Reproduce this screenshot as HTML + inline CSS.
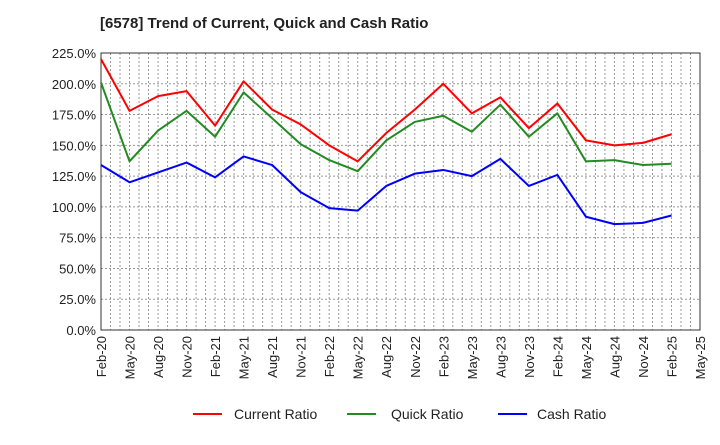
<!DOCTYPE html>
<html><head><meta charset="utf-8"><style>
body{margin:0;background:#fff;font-family:"Liberation Sans",sans-serif;}
</style></head><body>
<svg id="c" width="720" height="440" xmlns="http://www.w3.org/2000/svg">
<text x="100" y="28" font-size="15" font-weight="bold" fill="#222">[6578]  Trend of Current, Quick and Cash Ratio</text>
<g id="grid"></g><g id="axes"></g><g id="series"></g>
<g font-size="14" fill="#222">
<line x1="193" y1="414" x2="222" y2="414" stroke="#ff0000" stroke-width="2"/>
<text x="234" y="419">Current Ratio</text>
<line x1="347" y1="414" x2="376" y2="414" stroke="#228b22" stroke-width="2"/>
<text x="391" y="419">Quick Ratio</text>
<line x1="498" y1="414" x2="527" y2="414" stroke="#0000ff" stroke-width="2"/>
<text x="537" y="419">Cash Ratio</text>
</g>
</svg>
<script>
const xLabels=["Feb-20","May-20","Aug-20","Nov-20","Feb-21","May-21","Aug-21","Nov-21","Feb-22","May-22","Aug-22","Nov-22","Feb-23","May-23","Aug-23","Nov-23","Feb-24","May-24","Aug-24","Nov-24","Feb-25","May-25"];
const yTicks=[0,25,50,75,100,125,150,175,200,225];
const currentRatio=[220,178,190,194,166,202,179,167,150,137,160,179,200,176,189,164,184,154,150,152,159];
const quickRatio=[201,137,162,178,157,193,172,151,138,129,154,169,174,161,183,157,176,137,138,134,135];
const cashRatio=[134,120,128,136,124,141,134,112,99,97,117,127,130,125,139,117,126,92,86,87,93];
const L=101,R=700,T=53,B=330,NS="http://www.w3.org/2000/svg";
const xq=i=>L+(R-L)*i/(xLabels.length-1);
const y=v=>B-(B-T)*v/225;
function mk(t,a,p){const e=document.createElementNS(NS,t);for(const k in a)e.setAttribute(k,a[k]);p.appendChild(e);return e;}
const g=document.getElementById('grid'),ax=document.getElementById('axes'),s=document.getElementById('series');
for(let m=1;m<(xLabels.length-1)*3;m++){const x=L+(R-L)*m/((xLabels.length-1)*3);
const e=mk('line',{x1:x,x2:x,y1:T,y2:B,stroke:'#999','stroke-dasharray':'2,2','stroke-width':1},g);

}
yTicks.forEach(v=>{const e=mk('line',{x1:L,x2:R,y1:y(v),y2:y(v),stroke:'#999','stroke-dasharray':'2,2','stroke-width':1},g);


const t=mk('text',{x:L-5,y:y(v)+5,'text-anchor':'end','font-size':13,fill:'#222'},ax);t.textContent=v.toFixed(1)+'%';

});
const fr=mk('rect',{x:L,y:T,width:R-L,height:B-T,fill:'none',stroke:'#333','stroke-width':1},ax);


xLabels.forEach((l,i)=>{const x=xq(i);const t=mk('text',{x:0,y:0,transform:`translate(${x+5},${B+6}) rotate(-90)`,'text-anchor':'end','font-size':13,fill:'#222'},ax);t.textContent=l;

});
[[currentRatio,'#ff0000','current-ratio-line'],[quickRatio,'#228b22','quick-ratio-line'],[cashRatio,'#0000ff','cash-ratio-line']].forEach(([d,c,n])=>{
const p=mk('polyline',{points:d.map((v,i)=>xq(i)+','+y(v)).join(' '),fill:'none',stroke:c,'stroke-width':2,'stroke-linejoin':'round'},s);

});
</script>
</body></html>
